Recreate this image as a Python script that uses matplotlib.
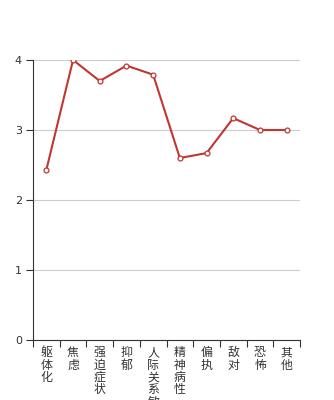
import matplotlib
matplotlib.use("Agg")
import matplotlib.pyplot as plt
import numpy as np

plt.rcParams['font.family'] = ['Noto Sans CJK SC', 'DejaVu Sans']

# 数据
categories = ["躯体化", "焦虑", "强迫症状", "抑郁", "人际关系敏感",
              "精神病性", "偏执", "敌对", "恐怖", "其他"]
values = [2.43, 4.0, 3.70, 3.92, 3.79, 2.60, 2.67, 3.17, 3.00, 3.00]
yticks = [0, 1, 2, 3, 4]

fig = plt.figure(figsize=(3.34, 4.0), dpi=100)
ax = fig.add_axes([33/334, 60/400, 267/334, 280/400])

x = np.arange(len(categories))
ax.plot(x, values, color="#c23531", linewidth=1.5, marker="o",
        markersize=3.5, markerfacecolor="white", markeredgecolor="#c23531",
        markeredgewidth=0.9, zorder=3)

ax.set_xlim(-0.5, len(categories) - 0.5)
ax.set_ylim(0, 4)
ax.set_yticks(yticks)
ax.set_yticklabels([str(t) for t in yticks], fontsize=8, color="#333333",
                   family="DejaVu Sans")
ax.yaxis.grid(True, color="#cccccc", linewidth=0.8)
ax.set_axisbelow(True)

# x轴刻度在类目边界
ax.set_xticks(np.arange(len(categories) + 1) - 0.5)
ax.set_xticklabels([])
ax.tick_params(axis="x", length=5, color="#333333", width=0.8)
ax.tick_params(axis="y", length=5, color="#333333", width=0.8, pad=3)

for i, name in enumerate(categories):
    ax.text(i, -0.09, "\n".join(name), ha="center", va="top", fontsize=8.6,
            color="#333333", linespacing=0.94,
            transform=ax.transData, clip_on=False)

for side in ["top", "right"]:
    ax.spines[side].set_visible(False)
ax.spines["left"].set_color("#333333")
ax.spines["bottom"].set_color("#333333")

fig.savefig("out.png", dpi=100)
